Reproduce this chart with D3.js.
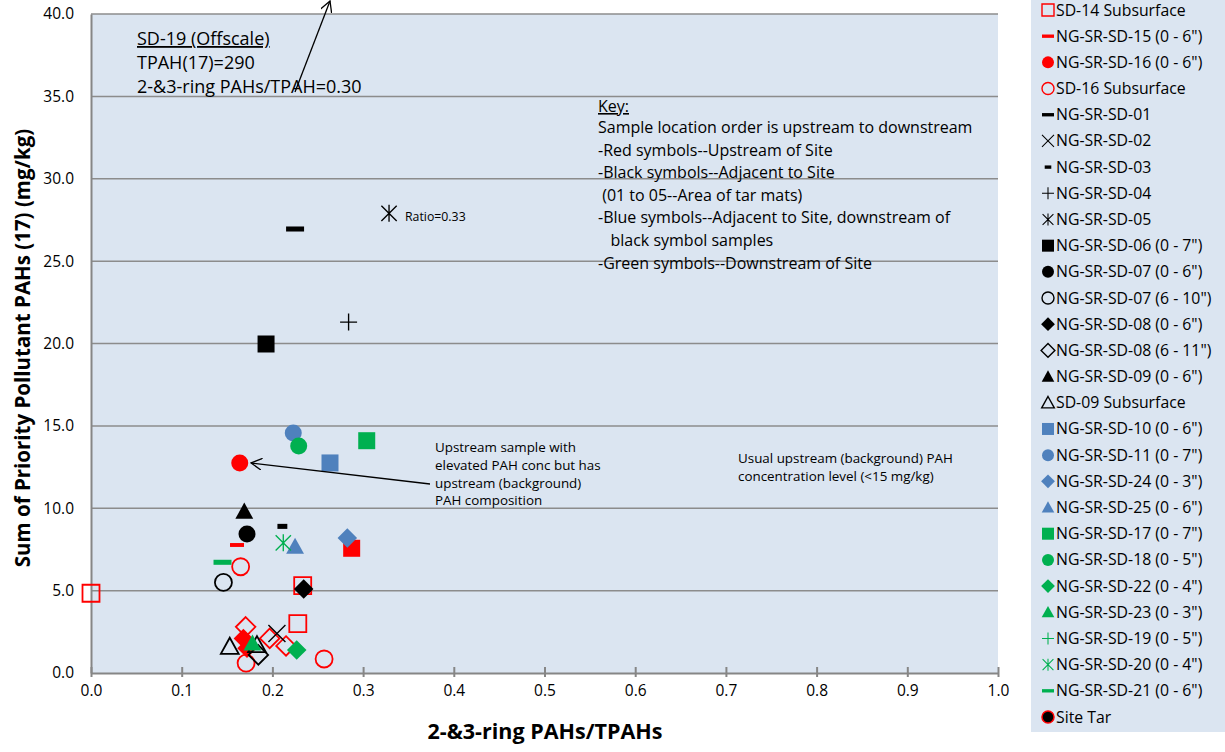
<!DOCTYPE html>
<html>
<head>
<meta charset="utf-8">
<script src="https://cdn.jsdelivr.net/npm/d3@7"></script>
<style>
  body { margin: 0; background: #fff; }
  text { font-family: "Open Sans", Lato, sans-serif; fill: #000; }
</style>
</head>
<body>
<svg id="chart" width="1225" height="752"></svg>
<script>
// --- data: [ratio 2-&3-ring PAHs/TPAHs, TPAH(17) mg/kg] ---
var sd13s  = [[0.1705, 2.8], [0.197, 2.1], [0.215, 1.64]];
var sd13   = [[0.168, 2.1], [0.172, 1.5]];
var sd14   = [[0.2874, 7.57]];
var sd14s  = [[0.0, 4.84], [0.2334, 5.3], [0.228, 3.0]];
var sd15   = [[0.161, 7.77]];
var sd16   = [[0.164, 12.75]];
var sd16s  = [[0.165, 6.45], [0.171, 0.6], [0.257, 0.85]];
var sd01   = [[0.225, 26.95]];
var sd02   = [[0.205, 2.4]];
var sd03   = [[0.211, 8.9]];
var sd04   = [[0.284, 21.3]];
var sd05   = [[0.3286, 27.9]];
var sd06   = [[0.193, 19.97]];
var sd07a  = [[0.172, 8.44]];
var sd07b  = [[0.146, 5.5]];
var sd08a  = [[0.2345, 5.1]];
var sd08b  = [[0.1845, 1.1]];
var sd09   = [[0.169, 9.8]];
var sd09s  = [[0.153, 1.6], [0.183, 1.7]];
var sd10   = [[0.2635, 12.75]];
var sd11   = [[0.223, 14.57]];
var sd24   = [[0.2826, 8.2]];
var sd25   = [[0.225, 7.67]];
var sd17   = [[0.304, 14.1]];
var sd18   = [[0.229, 13.78]];
var sd22   = [[0.2268, 1.4]];
var sd23   = [[0.178, 1.8]];
var sd19   = [];
var sd20   = [[0.212, 7.9]];
var sd21   = [[0.145, 6.72]];
var siteTar = [];

var xTicks = [0, 0.1, 0.2, 0.3, 0.4, 0.5, 0.6, 0.7, 0.8, 0.9, 1.0];
var yTicks = [0, 5, 10, 15, 20, 25, 30, 35, 40];

var RED = "#ff0000", BLK = "#000000", BLU = "#4f81bd", GRN = "#00b050";

// series table (legend order); first three sit above the visible legend
var series = [
  {name: "SD-13 Subsurface", pts: sd13s, c: RED, s: "diamond", f: false, lg: false},
  {name: "NG-SR-SD-13 (0 - 6\")", pts: sd13, c: RED, s: "diamond", f: true, lg: false},
  {name: "NG-SR-SD-14 (0 - 6\")", pts: sd14, c: RED, s: "square", f: true, lg: false},
  {name: "SD-14 Subsurface", pts: sd14s, c: RED, s: "square", f: false, lg: true},
  {name: "NG-SR-SD-15 (0 - 6\")", pts: sd15, c: RED, s: "dash", f: true, lg: true},
  {name: "NG-SR-SD-16 (0 - 6\")", pts: sd16, c: RED, s: "circle", f: true, lg: true},
  {name: "SD-16 Subsurface", pts: sd16s, c: RED, s: "circle", f: false, lg: true},
  {name: "NG-SR-SD-01", pts: sd01, c: BLK, s: "dash", f: true, lg: true},
  {name: "NG-SR-SD-02", pts: sd02, c: BLK, s: "x", f: true, lg: true},
  {name: "NG-SR-SD-03", pts: sd03, c: BLK, s: "smalldash", f: true, lg: true},
  {name: "NG-SR-SD-04", pts: sd04, c: BLK, s: "plus", f: true, lg: true},
  {name: "NG-SR-SD-05", pts: sd05, c: BLK, s: "star", f: true, lg: true},
  {name: "NG-SR-SD-06 (0 - 7\")", pts: sd06, c: BLK, s: "square", f: true, lg: true},
  {name: "NG-SR-SD-07 (0 - 6\")", pts: sd07a, c: BLK, s: "circle", f: true, lg: true},
  {name: "NG-SR-SD-07 (6 - 10\")", pts: sd07b, c: BLK, s: "circle", f: false, lg: true},
  {name: "NG-SR-SD-08 (0 - 6\")", pts: sd08a, c: BLK, s: "diamond", f: true, lg: true},
  {name: "NG-SR-SD-08 (6 - 11\")", pts: sd08b, c: BLK, s: "diamond", f: false, lg: true},
  {name: "NG-SR-SD-09 (0 - 6\")", pts: sd09, c: BLK, s: "triangle", f: true, lg: true},
  {name: "SD-09 Subsurface", pts: sd09s, c: BLK, s: "triangle", f: false, lg: true},
  {name: "NG-SR-SD-10 (0 - 6\")", pts: sd10, c: BLU, s: "square", f: true, lg: true},
  {name: "NG-SR-SD-11 (0 - 7\")", pts: sd11, c: BLU, s: "circle", f: true, lg: true},
  {name: "NG-SR-SD-24 (0 - 3\")", pts: sd24, c: BLU, s: "diamond", f: true, lg: true},
  {name: "NG-SR-SD-25 (0 - 6\")", pts: sd25, c: BLU, s: "triangle", f: true, lg: true},
  {name: "NG-SR-SD-17 (0 - 7\")", pts: sd17, c: GRN, s: "square", f: true, lg: true},
  {name: "NG-SR-SD-18 (0 - 5\")", pts: sd18, c: GRN, s: "circle", f: true, lg: true},
  {name: "NG-SR-SD-22 (0 - 4\")", pts: sd22, c: GRN, s: "diamond", f: true, lg: true},
  {name: "NG-SR-SD-23 (0 - 3\")", pts: sd23, c: GRN, s: "triangle", f: true, lg: true},
  {name: "NG-SR-SD-19 (0 - 5\")", pts: sd19, c: GRN, s: "plus", f: true, lg: true},
  {name: "NG-SR-SD-20 (0 - 4\")", pts: sd20, c: GRN, s: "star", f: true, lg: true},
  {name: "NG-SR-SD-21 (0 - 6\")", pts: sd21, c: GRN, s: "dash", f: true, lg: true},
  {name: "Site Tar", pts: siteTar, c: BLK, s: "tar", f: true, lg: true}
];

var svg = d3.select("#chart");
var PLOT = {l: 91, r: 998, t: 14, b: 673};
var x = d3.scaleLinear().domain([0, 1]).range([PLOT.l, PLOT.r]);
var y = d3.scaleLinear().domain([0, 40]).range([PLOT.b, PLOT.t]);

// plot background
svg.append("rect").attr("x", PLOT.l).attr("y", PLOT.t)
    .attr("width", PLOT.r - PLOT.l).attr("height", PLOT.b - PLOT.t)
    .attr("fill", "#dbe5f1");

// gridlines
svg.selectAll(".grid").data(yTicks.filter(function(d) {return d > 0;}))
  .enter().append("line").attr("class", "grid")
    .attr("x1", PLOT.l).attr("x2", PLOT.r)
    .attr("y1", function(d) {return y(d);}).attr("y2", function(d) {return y(d);})
    .attr("stroke", "#8c8c8c").attr("stroke-width", 1.5);

// axes
var yAxis = d3.axisLeft(y).tickValues(yTicks).tickSize(0).tickPadding(17)
    .tickFormat(d3.format(".1f"));
var gy = svg.append("g").attr("transform", "translate(" + PLOT.l + ",0)").call(yAxis);
gy.select(".domain").attr("stroke", "#868686").attr("stroke-width", 2);
gy.selectAll("text").style("font-size", "15.5px").style("font-family", "\"Open Sans\", sans-serif");

var xAxis = d3.axisBottom(x).tickValues(xTicks).tickSizeInner(4).tickSizeOuter(0).tickPadding(8)
    .tickFormat(d3.format(".1f"));
var gx = svg.append("g").attr("transform", "translate(0," + PLOT.b + ")").call(xAxis);
gx.select(".domain").attr("stroke", "#868686").attr("stroke-width", 2);
gx.selectAll(".tick line").attr("stroke", "#868686").attr("stroke-width", 2)
    .attr("y1", -6).attr("y2", 4);
gx.selectAll("text").style("font-size", "15.5px").style("font-family", "\"Open Sans\", sans-serif");

// axis titles
svg.append("text").attr("x", 545).attr("y", 739).attr("text-anchor", "middle")
    .style("font-size", "21.5px").style("font-weight", "bold")
    .text("2-&3-ring PAHs/TPAHs");
svg.append("text").attr("transform", "translate(30,348) rotate(-90)")
    .attr("text-anchor", "middle")
    .style("font-size", "20.5px").style("font-weight", "bold")
    .text("Sum of Priority Pollutant PAHs (17) (mg/kg)");

// marker paths, r = half-size
function markerPath(s, r) {
    var p = d3.path();
    if (s === "circle") { p.arc(0, 0, r, 0, 2 * Math.PI); }
    else if (s === "square") { p.rect(-r, -r, 2 * r, 2 * r); }
    else if (s === "diamond") { p.moveTo(0, -r * 1.15); p.lineTo(r * 1.15, 0); p.lineTo(0, r * 1.15); p.lineTo(-r * 1.15, 0); p.closePath(); }
    else if (s === "triangle") { p.moveTo(0, -r * 1.05); p.lineTo(r * 1.05, r * 0.85); p.lineTo(-r * 1.05, r * 0.85); p.closePath(); }
    else if (s === "plus") { p.moveTo(-r, 0); p.lineTo(r, 0); p.moveTo(0, -r); p.lineTo(0, r); }
    else if (s === "x") { p.moveTo(-r, -r); p.lineTo(r, r); p.moveTo(-r, r); p.lineTo(r, -r); }
    else if (s === "star") { p.moveTo(-r * 0.9, -r * 0.9); p.lineTo(r * 0.9, r * 0.9); p.moveTo(-r * 0.9, r * 0.9); p.lineTo(r * 0.9, -r * 0.9); p.moveTo(0, -r); p.lineTo(0, r); }
    else if (s === "dash") { p.rect(-r, -r * 0.28, 2 * r, r * 0.56); }
    else if (s === "smalldash") { p.rect(-r * 0.55, -r * 0.28, r * 1.1, r * 0.56); }
    return p.toString();
}

function drawMarker(g, d, r, lw) {
    if (d.s === "tar") {
        g.append("circle").attr("r", r).attr("fill", "#000").attr("stroke", RED).attr("stroke-width", 1.5);
        return;
    }
    var line = (d.s === "plus" || d.s === "x" || d.s === "star");
    g.append("path").attr("d", markerPath(d.s, r))
        .attr("fill", line ? "none" : (d.f ? d.c : "none"))
        .attr("stroke", (d.f && !line) ? "none" : d.c)
        .attr("stroke-width", line ? lw * 0.75 : lw);
}

// points
series.forEach(function(d) {
    var rr = (d.s === "dash") ? 9 : (d.s === "smalldash" ? 9 : 8.5);
    if (d.name === "NG-SR-SD-15 (0 - 6\")") rr = 7;
    d.pts.forEach(function(p) {
        var g = svg.append("g").attr("class", "pt")
            .attr("transform", "translate(" + x(p[0]) + "," + y(p[1]) + ")");
        drawMarker(g, d, rr, 1.8);
    });
});

// legend
var shown = series.filter(function(d) {return d.lg;});
var LEG = {x: 1031, y0: 10, step: (717 - 10) / (shown.length - 1)};
svg.insert("rect", ".pt").attr("x", LEG.x).attr("y", 0).attr("width", 1225 - LEG.x)
    .attr("height", 732).attr("fill", "#dbe5f1");
shown.forEach(function(d, i) {
    var cy = LEG.y0 + i * LEG.step;
    var g = svg.append("g").attr("transform", "translate(1048," + cy + ")");
    drawMarker(g, d, 6, 1.4);
    svg.append("text").attr("x", 1056).attr("y", cy).attr("dy", "0.35em")
        .style("font-size", "15.8px").text(d.name);
});

// annotations
var arrowDef = svg.append("defs").append("marker").attr("id", "open")
    .attr("viewBox", "0 0 12 12").attr("refX", 11).attr("refY", 6)
    .attr("markerWidth", 12).attr("markerHeight", 12).attr("markerUnits", "userSpaceOnUse")
    .attr("orient", "auto");
arrowDef.append("path").attr("d", "M0,0 L11,6 L0,12").attr("fill", "none")
    .attr("stroke", "#000").attr("stroke-width", 1.3);

var sd19note = ["TPAH(17)=290", "2-&3-ring PAHs/TPAH=0.30"];
svg.append("text").attr("x", 137).attr("y", 45).style("font-size", "18px")
    .style("text-decoration", "underline").text("SD-19 (Offscale)");
sd19note.forEach(function(t, i) {
    svg.append("text").attr("x", 137).attr("y", 69 + i * 24).style("font-size", "18px").text(t);
});
svg.append("line").attr("x1", 295).attr("y1", 92).attr("x2", 330).attr("y2", 1)
    .attr("stroke", "#000").attr("stroke-width", 1.3).attr("marker-end", "url(#open)");

var keyLines = [
  "Sample location order is upstream to downstream",
  "-Red symbols--Upstream of Site",
  "-Black symbols--Adjacent to Site",
  " (01 to 05--Area of tar mats)",
  "-Blue symbols--Adjacent to Site, downstream of",
  "   black symbol samples",
  "-Green symbols--Downstream of Site"
];
svg.append("text").attr("x", 598).attr("y", 112).style("font-size", "16px")
    .style("text-decoration", "underline").text("Key:");
keyLines.forEach(function(t, i) {
    svg.append("text").attr("x", 598).attr("y", 133 + i * 22.6).style("font-size", "16px")
        .style("white-space", "pre").text(t);
});

svg.append("text").attr("x", 405).attr("y", 221).style("font-size", "12.3px").text("Ratio=0.33");

var upNote = ["Upstream sample with", "elevated PAH conc but has", "upstream (background)", "PAH composition"];
upNote.forEach(function(t, i) {
    svg.append("text").attr("x", 435).attr("y", 452 + i * 17.8).style("font-size", "13.4px").text(t);
});
svg.append("line").attr("x1", 430).attr("y1", 484).attr("x2", 251).attr("y2", 463)
    .attr("stroke", "#000").attr("stroke-width", 1.3).attr("marker-end", "url(#open)");

var bgNote = ["Usual upstream (background) PAH", "concentration level (<15 mg/kg)"];
bgNote.forEach(function(t, i) {
    svg.append("text").attr("x", 738).attr("y", 463 + i * 17.8).style("font-size", "13.4px").text(t);
});
</script>
</body>
</html>
